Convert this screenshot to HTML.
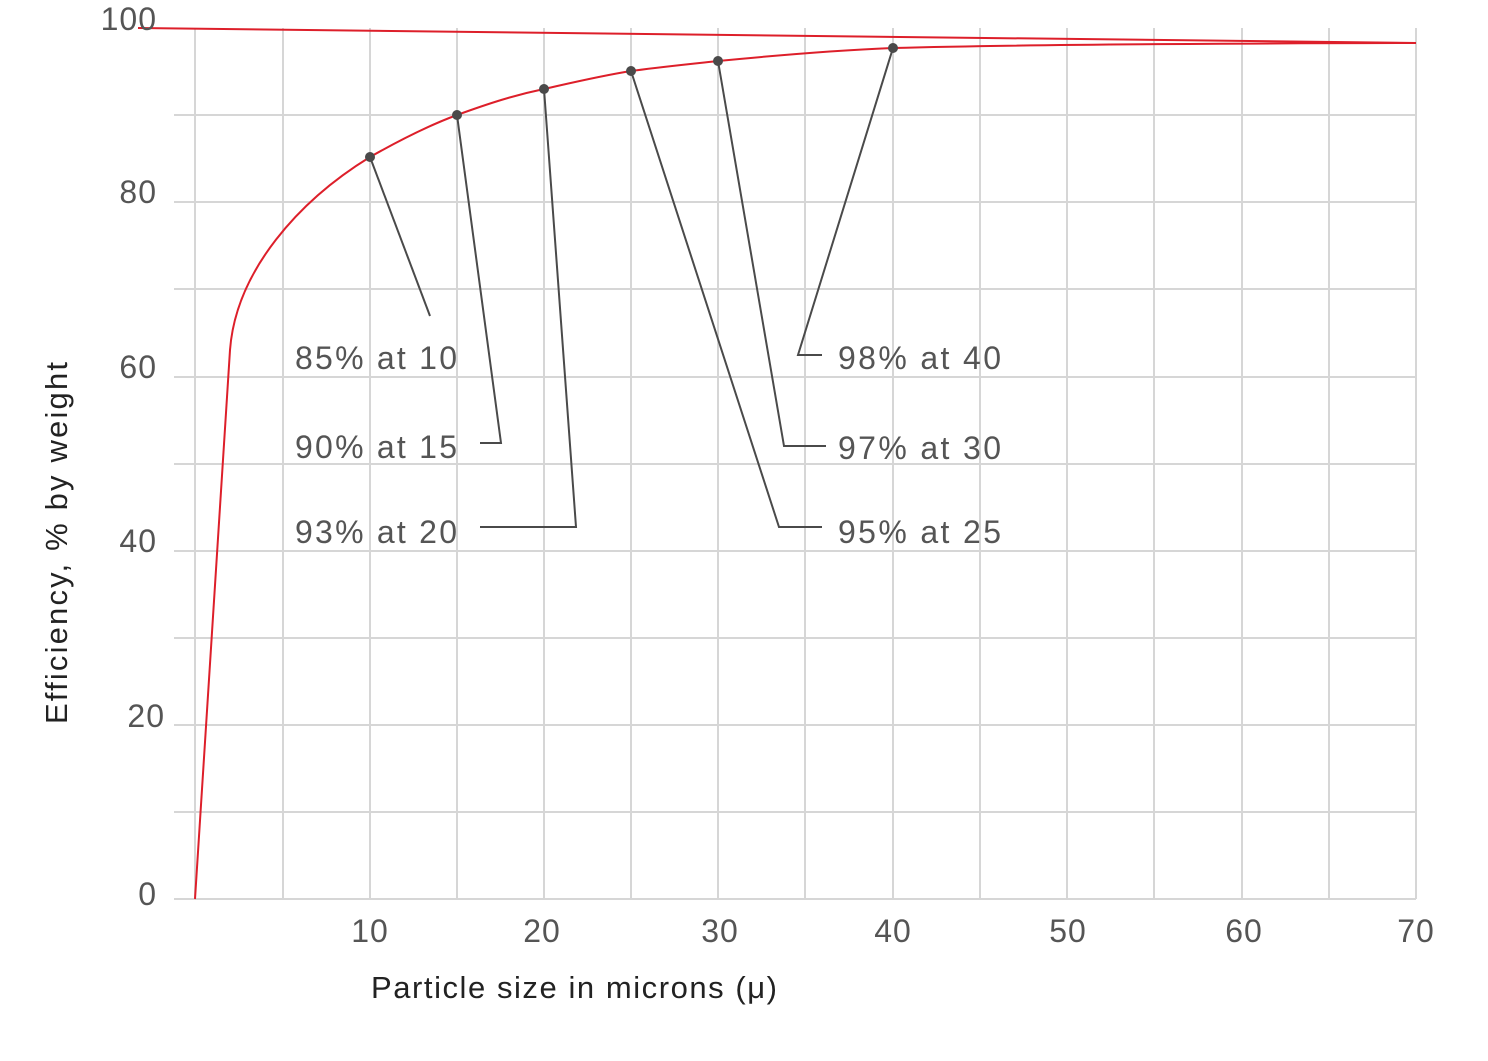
<!DOCTYPE html>
<html><head><style>body{margin:0;background:#fff}</style></head><body>
<svg width="1488" height="1056" xmlns="http://www.w3.org/2000/svg" font-family="Liberation Sans, sans-serif">
<g stroke="#d6d6d6" stroke-width="2">
<line x1="174" y1="115" x2="1416" y2="115"/><line x1="174" y1="202" x2="1416" y2="202"/><line x1="174" y1="289" x2="1416" y2="289"/><line x1="174" y1="377" x2="1416" y2="377"/><line x1="174" y1="464" x2="1416" y2="464"/><line x1="174" y1="551" x2="1416" y2="551"/><line x1="174" y1="638" x2="1416" y2="638"/><line x1="174" y1="725" x2="1416" y2="725"/><line x1="174" y1="812" x2="1416" y2="812"/><line x1="174" y1="899" x2="1416" y2="899"/>
<line x1="195" y1="28" x2="195" y2="899"/><line x1="283" y1="28" x2="283" y2="899"/><line x1="370" y1="28" x2="370" y2="899"/><line x1="457" y1="28" x2="457" y2="899"/><line x1="544" y1="28" x2="544" y2="899"/><line x1="631" y1="28" x2="631" y2="899"/><line x1="718" y1="28" x2="718" y2="899"/><line x1="805" y1="28" x2="805" y2="899"/><line x1="893" y1="28" x2="893" y2="899"/><line x1="980" y1="28" x2="980" y2="899"/><line x1="1067" y1="28" x2="1067" y2="899"/><line x1="1154" y1="28" x2="1154" y2="899"/><line x1="1242" y1="28" x2="1242" y2="899"/><line x1="1329" y1="28" x2="1329" y2="899"/><line x1="1416" y1="28" x2="1416" y2="899"/>
</g>
<g stroke="#dd1f2a" stroke-width="2" fill="none">
<line x1="138" y1="28" x2="1416" y2="43"/>
<path d="M195,899 L230,350 C236,270 300,200 370,157 C400,140 430,125 457,115 C490,103 515,95 544,89 C575,82 600,76 631,71 C660,67 690,64 718,61 C780,55 840,50 893,48 C1000,45 1150,43.5 1416,43"/>
</g>
<g stroke="#4a4a4a" stroke-width="2" fill="none">
<polyline points="370,157 430,316"/>
<polyline points="457,115 501,443 480,443"/>
<polyline points="544,89 576,527 480,527"/>
<polyline points="631,71 779,527 822,527"/>
<polyline points="718,61 784,446 826,446"/>
<polyline points="893,48 798,355 822,355"/>
</g>
<g fill="#4a4a4a"><circle cx="370" cy="157" r="5"/><circle cx="457" cy="115" r="5"/><circle cx="544" cy="89" r="5"/><circle cx="631" cy="71" r="5"/><circle cx="718" cy="61" r="5"/><circle cx="893" cy="48" r="5"/></g>
<g fill="#555" font-size="32">
<text x="295" y="369" textLength="162">85% at 10</text><text x="295" y="458" textLength="162">90% at 15</text><text x="295" y="543" textLength="162">93% at 20</text>
<text x="838" y="369" textLength="163">98% at 40</text><text x="838" y="459" textLength="163">97% at 30</text><text x="838" y="543" textLength="163">95% at 25</text>
<g text-anchor="end" letter-spacing="1"><text x="157" y="30">100</text><text x="157" y="203">80</text><text x="157" y="378">60</text><text x="157" y="552">40</text><text x="165" y="727">20</text><text x="157" y="905">0</text></g>
<g text-anchor="middle" letter-spacing="1"><text x="370" y="942">10</text><text x="542" y="942">20</text><text x="720" y="942">30</text><text x="893" y="942">40</text><text x="1068" y="942">50</text><text x="1244" y="942">60</text><text x="1416" y="942">70</text></g>
</g>
<g fill="#222" font-size="31">
<text x="371" y="998" textLength="406">Particle size in microns (μ)</text>
<text transform="translate(67,724) rotate(-90)" textLength="362">Efficiency, % by weight</text>
</g>
</svg>
</body></html>
